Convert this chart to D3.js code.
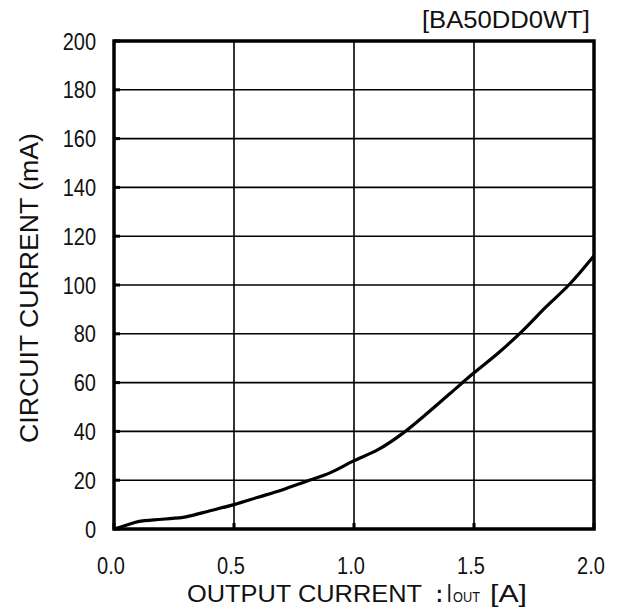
<!DOCTYPE html>
<html>
<head>
<meta charset="utf-8">
<script src="https://cdn.jsdelivr.net/npm/d3@7/dist/d3.min.js"></script>
<style>
  html, body { margin: 0; padding: 0; background: #fff; }
  svg { display: block; }
  text { font-family: "Liberation Sans", Arial, sans-serif; fill: #111; }
</style>
</head>
<body>
<svg id="chart" width="619" height="614"></svg>
<script>
const title = "[BA50DD0WT]";
const xLabel = "OUTPUT CURRENT";
const yLabel = "CIRCUIT CURRENT (mA)";
const xTicks = [0, 0.5, 1.0, 1.5, 2.0];
const yTicks = [0, 20, 40, 60, 80, 100, 120, 140, 160, 180, 200];
const outputCurrent = [0, 0.05, 0.1, 0.2, 0.3, 0.4, 0.5, 0.6, 0.7, 0.8, 0.9, 1.0, 1.1, 1.2, 1.3, 1.4, 1.5, 1.6, 1.7, 1.8, 1.9, 2.0];
const circuitCurrent = [0, 1.5, 3, 4, 5, 7.5, 10, 13, 16, 19.5, 23, 28, 32.5, 39, 47, 55.5, 64, 72, 81, 91, 100.5, 112];

const svg = d3.select("#chart");
const L = 114, R = 594, T = 41, B = 529;
const x = d3.scaleLinear().domain([0, 2]).range([L, R]);
const y = d3.scaleLinear().domain([0, 200]).range([B, T]);

// grid
const g = svg.append("g");
g.selectAll("line.vg").data(xTicks).enter().append("line")
  .attr("x1", d => x(d)).attr("x2", d => x(d)).attr("y1", T).attr("y2", B)
  .attr("stroke", "#000").attr("stroke-width", 1.6);
g.selectAll("line.hg").data(yTicks).enter().append("line")
  .attr("y1", d => y(d)).attr("y2", d => y(d)).attr("x1", L).attr("x2", R)
  .attr("stroke", "#000").attr("stroke-width", 1.6);

// inner ticks
g.selectAll("line.yt").data(yTicks).enter().append("line")
  .attr("y1", d => y(d)).attr("y2", d => y(d)).attr("x1", L).attr("x2", L + 6)
  .attr("stroke", "#000").attr("stroke-width", 3);
g.selectAll("line.xt").data(xTicks).enter().append("line")
  .attr("x1", d => x(d)).attr("x2", d => x(d)).attr("y1", B).attr("y2", B - 6)
  .attr("stroke", "#000").attr("stroke-width", 3);

// frame
svg.append("rect").attr("x", L).attr("y", T).attr("width", R - L).attr("height", B - T)
  .attr("fill", "none").attr("stroke", "#000").attr("stroke-width", 3.5);

// curve
const line = d3.line().x((d, i) => x(outputCurrent[i])).y(d => y(d)).curve(d3.curveMonotoneX);
svg.append("path").datum(circuitCurrent).attr("d", line)
  .attr("fill", "none").attr("stroke", "#000").attr("stroke-width", 3.2)
  .attr("stroke-linejoin", "round");

// tick labels
svg.selectAll("text.xtl").data(xTicks).enter().append("text")
  .attr("transform", d => `translate(${x(d) - 3},574) scale(1,1.22)`)
  .attr("text-anchor", "middle").attr("font-size", 20).text(d => d.toFixed(1));
svg.selectAll("text.ytl").data(yTicks).enter().append("text")
  .attr("transform", d => `translate(96,${y(d) + 8.5}) scale(1,1.22)`)
  .attr("text-anchor", "end").attr("font-size", 20).text(d => d);

// title
svg.append("text").attr("transform", "translate(422,28) scale(1,1.12)").attr("font-size", 22)
  .attr("textLength", 168).attr("lengthAdjust", "spacingAndGlyphs").text(title);

// x label
const xs = "scale(1,1.15)";
svg.append("text").attr("transform", `translate(187,602) ${xs}`).attr("font-size", 20)
  .attr("textLength", 235).attr("lengthAdjust", "spacingAndGlyphs").text(xLabel);
svg.append("text").attr("transform", `translate(436,602) ${xs}`).attr("font-size", 20)
  .attr("font-weight", "bold").text(":");
svg.append("text").attr("transform", `translate(447,602) ${xs}`).attr("font-size", 20).text("l");
svg.append("text").attr("transform", `translate(453,602) ${xs}`).attr("font-size", 13)
  .attr("textLength", 27).attr("lengthAdjust", "spacingAndGlyphs").text("OUT");
svg.append("text").attr("transform", `translate(490,602) ${xs}`).attr("font-size", 20)
  .attr("textLength", 37).attr("lengthAdjust", "spacingAndGlyphs").text("[A]");

// y label
svg.append("text").attr("transform", "translate(38,443) rotate(-90) scale(1,1.2)")
  .attr("font-size", 21).attr("textLength", 310).attr("lengthAdjust", "spacingAndGlyphs")
  .text(yLabel);
</script>
</body>
</html>
